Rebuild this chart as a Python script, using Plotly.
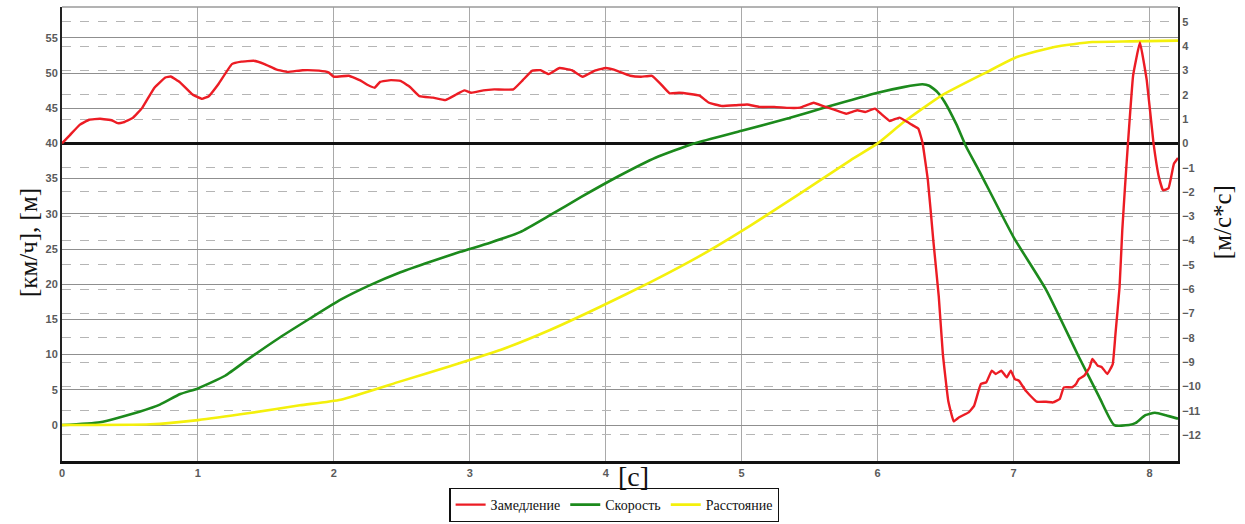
import plotly.graph_objects as go

# Time axis, seconds
t_decel = [0.0, 0.06, 0.13, 0.2, 0.28, 0.37, 0.41, 0.45, 0.52, 0.59, 0.68, 0.76, 0.80, 0.87,
           0.96, 1.03, 1.08, 1.15, 1.25, 1.32, 1.41, 1.49, 1.58, 1.66, 1.77, 1.89, 1.96, 2.0,
           2.11, 2.2, 2.25, 2.30, 2.34, 2.42, 2.49, 2.56, 2.63, 2.73, 2.82, 2.9, 2.96, 3.01,
           3.10, 3.18, 3.32, 3.39, 3.46, 3.52, 3.58, 3.66, 3.75, 3.83, 3.92, 4.0, 4.06, 4.18,
           4.26, 4.34, 4.40, 4.47, 4.54, 4.62, 4.69, 4.76, 4.85, 4.96, 5.04, 5.13, 5.24, 5.35,
           5.43, 5.53, 5.6, 5.68, 5.77, 5.85, 5.91, 5.98, 6.03, 6.09, 6.16, 6.22, 6.26, 6.30,
           6.33, 6.37, 6.41, 6.45, 6.48, 6.52, 6.56, 6.60, 6.67, 6.71, 6.76, 6.80, 6.84, 6.87,
           6.91, 6.95, 6.98, 7.01, 7.04, 7.09, 7.17, 7.24, 7.29, 7.34, 7.37, 7.43, 7.46, 7.48,
           7.52, 7.56, 7.58, 7.62, 7.65, 7.69, 7.73, 7.75, 7.78, 7.80, 7.82, 7.84, 7.88, 7.93,
           7.98, 8.03, 8.07, 8.10, 8.14, 8.18, 8.21]
# Deceleration, m/s^2 (right axis)
decel = [0.0, 0.35, 0.76, 0.97, 1.01, 0.94, 0.83, 0.86, 1.04, 1.46, 2.29, 2.71, 2.75, 2.5,
         2.01, 1.83, 1.94, 2.43, 3.26, 3.36, 3.4, 3.26, 3.03, 2.94, 3.01, 2.99, 2.92, 2.74,
         2.78, 2.57, 2.4, 2.29, 2.53, 2.6, 2.57, 2.32, 1.94, 1.88, 1.78, 2.01, 2.18, 2.08,
         2.18, 2.22, 2.22, 2.6, 2.99, 3.01, 2.85, 3.1, 3.01, 2.74, 2.99, 3.1, 3.03, 2.78,
         2.74, 2.78, 2.47, 2.06, 2.08, 2.03, 1.96, 1.67, 1.54, 1.57, 1.6, 1.5, 1.5, 1.46,
         1.47, 1.67, 1.53, 1.39, 1.22, 1.36, 1.29, 1.43, 1.19, 0.92, 1.06, 0.88, 0.74, 0.6,
         0.04, -1.52, -4.0, -6.3, -8.66, -10.6, -11.44, -11.27, -11.07, -10.8, -9.9, -9.83, -9.35, -9.49,
         -9.35, -9.63, -9.35, -9.7, -9.77, -10.18, -10.63, -10.63, -10.66, -10.52, -10.04, -10.04, -9.9, -9.7,
         -9.56, -9.21, -8.87, -9.15, -9.21, -9.49, -9.08, -7.84, -5.92, -3.58, -1.8, -0.15, 2.8, 4.15,
         2.6, 0.0, -1.4, -1.93, -1.85, -0.84, -0.6]

t_speed = [0.0, 0.28, 0.57, 0.72, 0.87, 1.0, 1.2, 1.38, 1.6, 1.83, 2.05, 2.27, 2.49, 2.71,
           2.93, 3.15, 3.37, 3.59, 3.82, 4.09, 4.37, 4.65, 5.0, 5.35, 5.63, 6.0, 6.19, 6.33,
           6.38, 6.44, 6.49, 6.58, 6.65, 6.75, 7.0, 7.24, 7.48, 7.63, 7.74, 7.85, 7.9, 7.97,
           8.04, 8.12, 8.21]
# Speed, km/h (left axis)
speed = [0.0, 0.4, 1.9, 2.9, 4.4, 5.2, 7.0, 9.5, 12.4, 15.2, 17.8, 19.9, 21.7, 23.2,
         24.6, 25.9, 27.4, 29.8, 32.4, 35.3, 38.0, 40.0, 41.8, 43.6, 45.2, 47.2, 48.0, 48.4,
         48.2, 47.3, 46.0, 42.7, 39.6, 36.0, 26.7, 19.2, 9.7, 4.0, 0.0, 0.0, 0.3, 1.4,
         1.75, 1.4, 0.9]

t_dist = [0.0, 0.65, 1.0, 1.38, 1.75, 2.05, 2.49, 2.86, 3.23, 3.59, 3.96, 4.33, 4.7, 5.07,
          5.44, 5.8, 6.0, 6.19, 6.47, 6.8, 7.03, 7.3, 7.58, 7.86, 8.21]
# Distance, m (left axis)
dist = [0.0, 0.1, 0.7, 1.7, 2.8, 3.6, 6.2, 8.4, 10.7, 13.5, 16.8, 20.3, 24.1, 28.4,
        33.0, 37.6, 40.0, 43.0, 46.8, 50.1, 52.3, 53.7, 54.4, 54.5, 54.6]

x_ticks = [0, 1, 2, 3, 4, 5, 6, 7, 8]
left_ticks = [0, 5, 10, 15, 20, 25, 30, 35, 40, 45, 50, 55]
right_ticks = list(range(-12, 6))

SERIF = "Liberation Serif"
SANS = "Liberation Sans, Arial, sans-serif"
tick_font = dict(family=SANS, size=11, color="#5a5a5a", weight="bold")

fig = go.Figure()
fig.add_trace(go.Scatter(x=t_decel, y=decel, name="Замедление", yaxis="y2",
                         mode="lines", line=dict(color="#ec1c24", width=2.4, shape="spline", smoothing=0.3)))
fig.add_trace(go.Scatter(x=t_speed, y=speed, name="Скорость", yaxis="y",
                         mode="lines", line=dict(color="#1c8a1c", width=2.6, shape="spline", smoothing=0.5)))
fig.add_trace(go.Scatter(x=t_dist, y=dist, name="Расстояние", yaxis="y",
                         mode="lines", line=dict(color="#f4f00c", width=2.6, shape="spline", smoothing=0.5)))

fig.update_layout(
    width=1245, height=524,
    margin=dict(l=62, r=67, t=7, b=63, autoexpand=False),
    paper_bgcolor="white", plot_bgcolor="white",
    xaxis=dict(range=[0, 8.21], tickvals=x_ticks, showgrid=True, gridcolor="#a9a9a9", gridwidth=1.2,
               zeroline=False, showline=True, linecolor="#111", linewidth=3, ticks="",
               tickfont=tick_font),
    yaxis=dict(range=[-5.11, 59.38], tickvals=left_ticks, showgrid=True, gridcolor="#8f8f8f",
               gridwidth=1.2, zeroline=False, showline=True, linecolor="#222", linewidth=2,
               ticks="", tickfont=tick_font),
    yaxis2=dict(range=[-13.07, 5.61], tickvals=right_ticks, overlaying="y", side="right",
                showgrid=True, gridcolor="#b5b5b5", gridwidth=1.2, griddash="dash",
                zeroline=True, zerolinecolor="#111", zerolinewidth=2.6,
                showline=True, linecolor="#222", linewidth=2, ticks="", tickfont=tick_font),
    showlegend=True,
    legend=dict(orientation="h", x=0.495, xanchor="center", y=-0.134, yanchor="bottom",
                bgcolor="white", bordercolor="#111", borderwidth=1.2, itemwidth=30,
                font=dict(family=SERIF, size=14, color="#111"), tracegroupgap=0),
    shapes=[dict(type="line", xref="paper", yref="paper", x0=0, x1=1, y0=1, y1=1,
                 line=dict(color="#9a9a9a", width=1.5))],
    annotations=[
        dict(text="[км/ч], [м]", xref="paper", yref="paper", x=0, y=0.48, xshift=-34,
             textangle=-90, showarrow=False, xanchor="center", yanchor="middle",
             font=dict(family=SERIF, size=25, color="#111")),
        dict(text="[м/с*с]", xref="paper", yref="paper", x=1, y=0.526, xshift=44,
             textangle=-90, showarrow=False, xanchor="center", yanchor="middle",
             font=dict(family=SERIF, size=25, color="#111")),
        dict(text="[с]", xref="paper", yref="paper", x=0.512, y=-0.035,
             showarrow=False, xanchor="center", yanchor="middle",
             font=dict(family=SERIF, size=28, color="#111")),
    ],
)

fig.write_html("out.html")
